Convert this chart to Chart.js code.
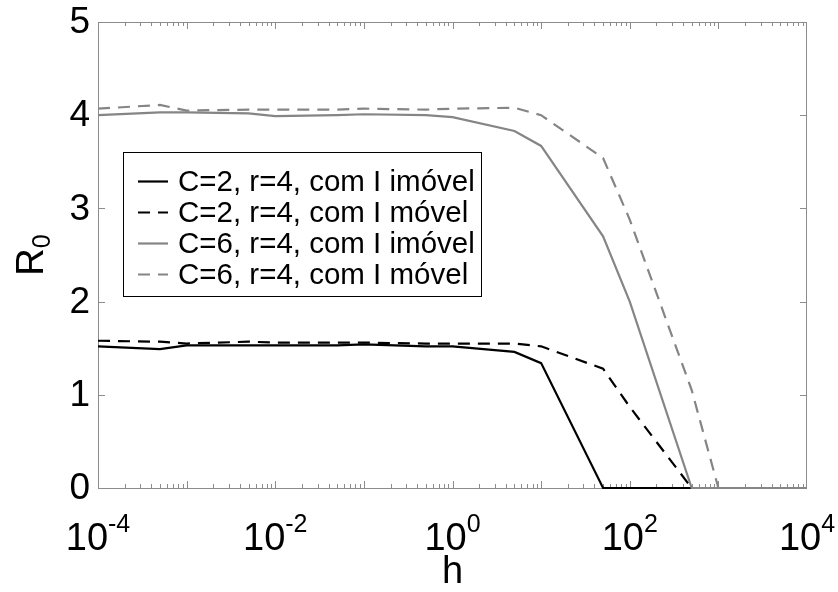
<!DOCTYPE html>
<html>
<head>
<meta charset="utf-8">
<script src="https://cdn.jsdelivr.net/npm/chart.js@4"></script>
<style>
  body { margin: 0; background: #fff; }
  #wrap { width: 838px; height: 592px; }
</style>
</head>
<body>
<div id="wrap"><canvas id="grafico" width="838" height="592"></canvas></div>
<script>
// valores de h usados na simulação
const hValores = [1e-4, 5e-4, 1e-3, 5e-3, 1e-2, 5e-2, 0.1, 0.5, 1, 5, 10, 50, 100, 500, 1000, 5000, 1e4];

const r0C2Imovel = [1.52, 1.49, 1.53, 1.53, 1.53, 1.53, 1.54, 1.52, 1.52, 1.46, 1.34, 0, 0, 0, 0, 0, 0];
const r0C2Movel  = [1.58, 1.57, 1.55, 1.57, 1.56, 1.56, 1.56, 1.55, 1.55, 1.55, 1.52, 1.28, 0.87, 0, 0, 0, 0];
const r0C6Imovel = [4.00, 4.03, 4.03, 4.02, 3.99, 4.00, 4.01, 4.00, 3.98, 3.83, 3.67, 2.70, 2.00, 0, 0, 0, 0];
const r0C6Movel  = [4.07, 4.11, 4.05, 4.06, 4.06, 4.06, 4.07, 4.06, 4.07, 4.08, 4.00, 3.54, 2.88, 1.05, 0, 0, 0];

const legendas = [
  'C=2, r=4, com I imóvel',
  'C=2, r=4, com I móvel',
  'C=6, r=4, com I imóvel',
  'C=6, r=4, com I móvel'
];

const xTicksMaiores = [-4, -2, 0, 2, 4];   // expoentes dos rótulos
const yTicks = [0, 1, 2, 3, 4, 5];

const FONTE = '"Liberation Sans", Arial, sans-serif';
const CINZA = '#858585';
const EIXO = '#8c8c8c';

function pontos(ys) {
  return hValores.map((h, i) => ({ x: h, y: ys[i] }));
}

function serie(idx, ys, cor, tracejado, ordem) {
  return {
    label: legendas[idx],
    data: pontos(ys),
    borderColor: cor,
    borderWidth: 2.2,
    borderDash: tracejado ? [12, 8] : [],
    pointRadius: 0,
    tension: 0,
    fill: false,
    clip: 6,
    order: ordem
  };
}

// moldura, marcas dos eixos e rótulos no estilo do MATLAB
const eixosMatlab = {
  id: 'eixosMatlab',
  beforeDatasetsDraw(chart) {
    const { ctx, chartArea: a, scales: { x, y } } = chart;
    ctx.save();
    ctx.strokeStyle = EIXO;
    ctx.lineWidth = 1;
    ctx.strokeRect(a.left + 0.5, a.top + 0.5, a.right - a.left - 1, a.bottom - a.top);

    ctx.beginPath();
    for (let e = -4; e < 4; e++) {
      for (let m = 1; m <= 9; m++) {
        const px = Math.round(x.getPixelForValue(m * Math.pow(10, e))) + 0.5;
        const len = m === 1 ? 7 : 4;
        ctx.moveTo(px, a.bottom); ctx.lineTo(px, a.bottom - len);
        ctx.moveTo(px, a.top); ctx.lineTo(px, a.top + len);
      }
    }
    yTicks.forEach(v => {
      const py = Math.round(y.getPixelForValue(v)) + 0.5;
      ctx.moveTo(a.left, py); ctx.lineTo(a.left + 7, py);
      ctx.moveTo(a.right, py); ctx.lineTo(a.right - 7, py);
    });
    ctx.stroke();
    ctx.restore();
  },
  afterDraw(chart) {
    const { ctx, chartArea: a, scales: { x, y } } = chart;
    ctx.save();
    ctx.fillStyle = '#000';

    // rótulos do eixo y
    ctx.font = '37px ' + FONTE;
    ctx.textAlign = 'right';
    ctx.textBaseline = 'middle';
    yTicks.forEach(v => ctx.fillText(String(v), a.left - 8, y.getPixelForValue(v) + 1));

    // rótulos do eixo x: 10 com expoente
    ctx.textBaseline = 'alphabetic';
    ctx.textAlign = 'left';
    xTicksMaiores.forEach(e => {
      const px = x.getPixelForValue(Math.pow(10, e));
      ctx.font = '38px ' + FONTE;
      const wBase = ctx.measureText('10').width;
      ctx.font = '25px ' + FONTE;
      const exp = e < 0 ? '-' + Math.abs(e) : String(e);
      const wExp = ctx.measureText(exp).width;
      const x0 = px - (wBase + wExp) / 2;
      ctx.font = '38px ' + FONTE;
      ctx.fillText('10', x0, 550);
      ctx.font = '25px ' + FONTE;
      ctx.fillText(exp, x0 + wBase, 532);
    });

    // título do eixo x
    ctx.font = '38px ' + FONTE;
    ctx.textAlign = 'center';
    ctx.fillText('h', (a.left + a.right) / 2, 583);

    // título do eixo y: R com índice 0
    ctx.translate(43, (a.top + a.bottom) / 2);
    ctx.rotate(-Math.PI / 2);
    ctx.font = '38px ' + FONTE;
    const wR = ctx.measureText('R').width;
    ctx.font = '25px ' + FONTE;
    const w0 = ctx.measureText('0').width;
    ctx.textAlign = 'left';
    ctx.font = '38px ' + FONTE;
    ctx.fillText('R', -(wR + w0) / 2, 0);
    ctx.font = '25px ' + FONTE;
    ctx.fillText('0', -(wR + w0) / 2 + wR, 7);
    ctx.restore();

    // legenda dentro da área do gráfico
    const caixa = { x: 123.5, y: 152.5, w: 358, h: 144 };
    ctx.save();
    ctx.fillStyle = '#fff';
    ctx.fillRect(caixa.x, caixa.y, caixa.w, caixa.h);
    ctx.strokeStyle = '#000';
    ctx.lineWidth = 1;
    ctx.strokeRect(caixa.x, caixa.y, caixa.w, caixa.h);
    ctx.font = '29.5px ' + FONTE;
    ctx.textBaseline = 'middle';
    ctx.textAlign = 'left';
    legendas.forEach((txt, k) => {
      const ds = chart.data.datasets.find(d => d.label === txt);
      const cy = caixa.y + 29 + k * 31;
      ctx.strokeStyle = ds.borderColor;
      ctx.lineWidth = 2.2;
      ctx.setLineDash(ds.borderDash);
      ctx.beginPath();
      ctx.moveTo(138, cy);
      ctx.lineTo(168, cy);
      ctx.stroke();
      ctx.setLineDash([]);
      ctx.fillStyle = '#000';
      ctx.fillText(txt, 178, cy + 1);
    });
    ctx.restore();
  }
};

new Chart(document.getElementById('grafico'), {
  type: 'line',
  data: {
    datasets: [
      serie(3, r0C6Movel, CINZA, true, 1),
      serie(2, r0C6Imovel, CINZA, false, 2),
      serie(1, r0C2Movel, '#000', true, 3),
      serie(0, r0C2Imovel, '#000', false, 4)
    ]
  },
  options: {
    responsive: false,
    animation: false,
    devicePixelRatio: 1,
    layout: { padding: { left: 98, right: 31, top: 22, bottom: 104 } },
    plugins: { legend: { display: false }, tooltip: { enabled: false } },
    scales: {
      x: { type: 'logarithmic', min: 1e-4, max: 1e4, display: false },
      y: { type: 'linear', min: 0, max: 5, display: false }
    }
  },
  plugins: [eixosMatlab]
});
</script>
</body>
</html>
